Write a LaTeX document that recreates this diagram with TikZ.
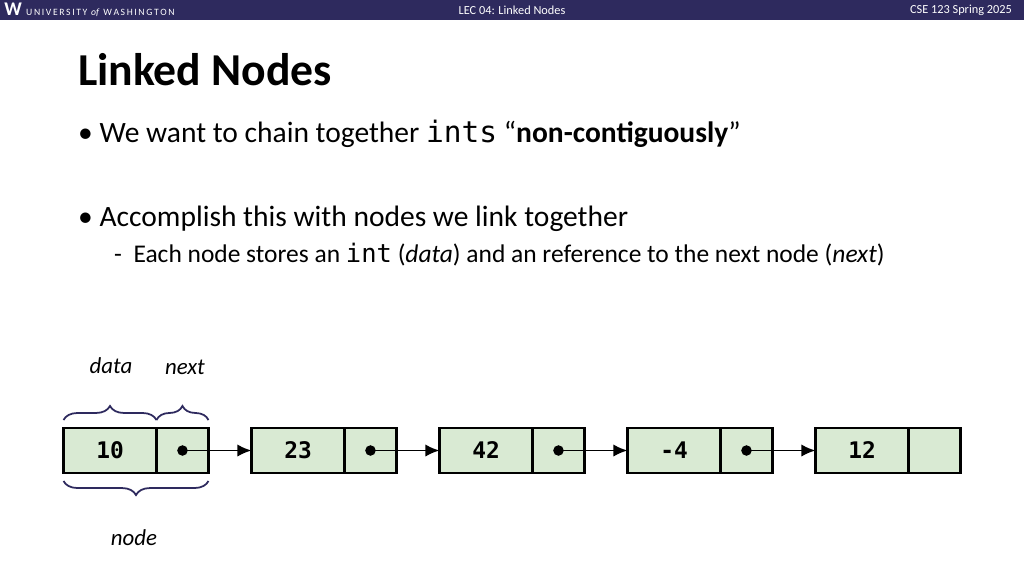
\documentclass[tikz,border=0pt]{standalone}
\usepackage{fontspec}
\setmainfont{Carlito}
\setmonofont{DejaVu Sans Mono}
\usetikzlibrary{positioning,decorations.pathreplacing,arrows.meta}
\definecolor{uwpurple}{HTML}{2E2A5E}
\definecolor{cellgreen}{HTML}{D9EAD3}
\definecolor{bracecol}{HTML}{2E2A5E}
\tikzset{
  datacell/.style={draw,line width=1.6pt,fill=cellgreen,outer sep=0pt,minimum width=1.86cm,minimum height=0.9cm,inner sep=0pt,font=\ttfamily\bfseries\fontsize{13}{13}\selectfont},
  nextcell/.style={draw,line width=1.6pt,fill=cellgreen,outer sep=0pt,minimum width=1.04cm,minimum height=0.9cm,inner sep=0pt},
  link/.style={line width=1.1pt,-{Latex[length=8pt,width=7pt]}},
  bracedeco/.style={decorate,decoration={brace,amplitude=8pt},line width=1pt,draw=bracecol}
}
\begin{document}
\begin{tikzpicture}[x=0.02cm,y=-0.02cm]
  \useasboundingbox (0,0) rectangle (1024,576);
  \fill[uwpurple] (0,0) rectangle (1024,20);
  \node[anchor=west,text=white,font=\rmfamily\fontsize{5.5}{5.5}\selectfont,inner sep=0pt] (uw) at (4,10) {\textbf{\fontsize{11}{11}\selectfont W}\ \ U\,N\,I\,V\,E\,R\,S\,I\,T\,Y \,\textit{of}\, W\,A\,S\,H\,I\,N\,G\,T\,O\,N};
  \node[text=white,font=\fontsize{7}{7}\selectfont] (lec) at (512,10) {LEC 04: Linked Nodes};
  \node[anchor=east,text=white,font=\fontsize{7}{7}\selectfont] (course) at (1018,10) {CSE 123 Spring 2025};
  \node[anchor=west,font=\bfseries\fontsize{26}{26}\selectfont] (title) at (72,70) {Linked Nodes};
  \node[anchor=west,font=\fontsize{16.8}{16.8}\selectfont] (b1) at (72,134) {\textbullet\ We want to chain together \texttt{ints} “\textbf{non-contiguously}”};
  \node[anchor=west,font=\fontsize{16.8}{16.8}\selectfont] (b2) at (72,219) {\textbullet\ Accomplish this with nodes we link together};
  \node[anchor=west,font=\fontsize{14.5}{14.5}\selectfont] (b3) at (108,255) {-\ \ Each node stores an \texttt{int} (\textit{data}) and an reference to the next node (\textit{next})};
  % the nodes
  \foreach \i/\val in {1/10,2/23,3/42,4/-4,5/12}{
    \node[datacell] (d\i) at ({63+47+188*(\i-1)},450.5) {\val};
    \node[nextcell,right=0pt of d\i] (n\i) {};
  }
  \foreach \i [evaluate=\i as \j using int(\i+1)] in {1,2,3,4}{
    \fill (n\i.center) circle (3pt);
    \draw[link] (n\i.center) -- (d\j.west);
  }
  % braces
  \draw[bracedeco] (d1.north west) ++(0,-8) coordinate (bl) -- (d1.north east|-bl) coordinate (bm);
  \draw[bracedeco] (bm) -- (n1.north east|-bl) coordinate (br);
  \draw[bracedeco] (n1.south east) ++(0,8) coordinate (cr) -- (d1.south west|-cr) coordinate (cl);
  \node[font=\itshape\fontsize{13}{13}\selectfont] (lbldata) at (111,366) {data};
  \node[font=\itshape\fontsize{13}{13}\selectfont] (lblnext) at (185,367) {next};
  \node[font=\itshape\fontsize{13}{13}\selectfont] (lblnode) at (134,538) {node};
\end{tikzpicture}
\end{document}
